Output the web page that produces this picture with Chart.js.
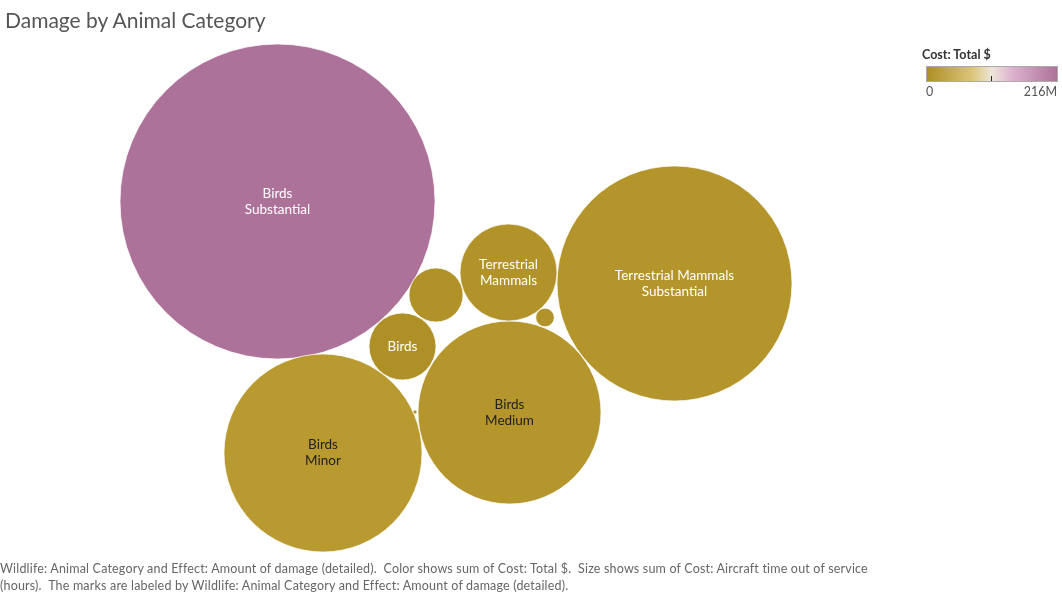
<!DOCTYPE html>
<html>
<head>
<meta charset="utf-8">
<script src="https://cdn.jsdelivr.net/npm/chart.js@4"></script>
<style>
  body { margin: 0; background: #fff; font-family: Lato, sans-serif; }
  #wrap { position: relative; width: 1062px; height: 594px; overflow: hidden; }
  #myChart { position: absolute; left: 0; top: 0; }
  .title { position: absolute; left: 5px; top: 7px; font-size: 21px; color: #555; }
  .legTitle { position: absolute; left: 922px; top: 47px; font-size: 12.5px; font-weight: bold; color: #333; }
  .legBar { position: absolute; left: 926px; top: 66px; width: 130px; height: 14px; border: 1px solid #aaa; }
  .legTick { position: absolute; left: 991px; top: 76px; width: 1px; height: 5px; background: #222; }
  .legLab { position: absolute; top: 84px; font-size: 12.5px; color: #555; }
  .footer { position: absolute; left: 0; top: 560px; width: 1000px; font-size: 12.5px; letter-spacing: 0.18px; line-height: 17px; color: #666; white-space: nowrap; }
</style>
</head>
<body>
<div id="wrap">
  <canvas id="myChart" width="1062" height="594"></canvas>
  <div class="title">Damage by Animal Category</div>
  <div class="legTitle">Cost: Total $</div>
  <div class="legBar" id="legBar"></div>
  <div class="legTick"></div>
  <div class="legLab" style="left:926px">0</div>
  <div class="legLab" style="right:5px">216M</div>
  <div class="footer">Wildlife: Animal Category and Effect: Amount of damage (detailed).&nbsp; Color shows sum of Cost: Total $.&nbsp; Size shows sum of Cost: Aircraft time out of service<br>(hours).&nbsp; The marks are labeled by Wildlife: Animal Category and Effect: Amount of damage (detailed).</div>
</div>
<script>
// Data (sizes from circle areas, costs from colour)
const categories = ["Birds", "Terrestrial Mammals", "Birds", "Birds", "Terrestrial Mammals",
                    "Terrestrial Mammals", "Birds", "Terrestrial Mammals", "Reptiles"];
const effects = ["Substantial", "Substantial", "Minor", "Medium", "",
                 "Minor", "", "Medium", "Minor"];
const hoursOut = [24800, 13800, 9800, 8370, 2350, 730, 1120, 86, 4];
const costTotal = [216000000, 8100000, 14800000, 9500000, 6000000, 4000000, 1400000, 5000000, 900000];
const costMax = 216000000;

// packed-bubble placement (layout of the packing, not data)
const packX = [277.5, 674.5, 323, 509.5, 508.5, 436, 402.5, 545, 415];
const packY = [201.5, 283.5, 453, 412.5, 272.5, 295, 346.5, 317.5, 412];
const maxRadius = 157.5;

// gold -> light -> purple diverging scale
const stops = [[0, [173, 143, 37]], [0.25, [213, 183, 77]], [0.5, [237, 230, 218]],
               [0.75, [214, 170, 200]], [1, [173, 114, 153]]];
function costColor(v) {
    const t = Math.max(0, Math.min(1, v / costMax));
    let k = 0;
    while (k < stops.length - 2 && t > stops[k + 1][0]) k++;
    const a = stops[k], b = stops[k + 1];
    const f = (t - a[0]) / (b[0] - a[0]);
    const c = a[1].map((x, i) => Math.round(x + (b[1][i] - x) * f));
    return "rgb(" + c.join(",") + ")";
}
document.getElementById("legBar").style.background =
    "linear-gradient(to right, #ad8f25, #dcc57a 35%, #ede6da 50%, #deb3cf 65%, #ad7299)";

const hMax = Math.max(...hoursOut);
const points = hoursOut.map((h, i) => ({
    x: packX[i], y: packY[i], r: maxRadius * Math.sqrt(h / hMax)
}));

// wrap text words into lines that fit maxW; null if a word does not fit
function wrapLines(ctx, text, maxW) {
    const out = [];
    let cur = "";
    for (const word of text.split(" ")) {
        if (ctx.measureText(word).width > maxW) return null;
        const test = cur ? cur + " " + word : word;
        if (ctx.measureText(test).width > maxW) { out.push(cur); cur = word; }
        else cur = test;
    }
    if (cur) out.push(cur);
    return out;
}

const labelPlugin = {
    id: "bubbleLabels",
    afterDatasetsDraw(chart) {
        const ctx = chart.ctx;
        const meta = chart.getDatasetMeta(0);
        ctx.save();
        ctx.font = "13.5px Lato, sans-serif";
        ctx.textAlign = "center";
        ctx.textBaseline = "middle";
        meta.data.forEach((el, i) => {
            const r = points[i].r;
            if (r < 20) return;
            let lines = [];
            for (const part of [categories[i], effects[i]]) {
                if (!part) continue;
                const wrapped = wrapLines(ctx, part, r * 1.8);
                if (!wrapped) { lines = null; break; }
                lines.push(...wrapped);
            }
            if (!lines || lines.length * 16 > r * 1.6) return;
            const t = costTotal[i] / costMax;
            ctx.fillStyle = (t > 0.04 && t < 0.75) ? "#222" : "#fff";
            const y0 = el.y - (lines.length - 1) * 8;
            lines.forEach((s, k) => ctx.fillText(s, el.x, y0 + k * 16));
        });
        ctx.restore();
    }
};

new Chart(document.getElementById("myChart"), {
    type: "bubble",
    data: {
        datasets: [{
            data: points,
            backgroundColor: costTotal.map(costColor),
            borderColor: "rgba(255,255,255,0.7)",
            borderWidth: 1,
            clip: false
        }]
    },
    options: {
        responsive: false,
        animation: false,
        layout: { padding: 0, autoPadding: false },
        plugins: { legend: { display: false }, tooltip: { enabled: false } },
        scales: {
            x: { type: "linear", min: 0, max: 1062, display: false },
            y: { type: "linear", min: 0, max: 594, reverse: true, display: false }
        }
    },
    plugins: [labelPlugin]
});
</script>
</body>
</html>
